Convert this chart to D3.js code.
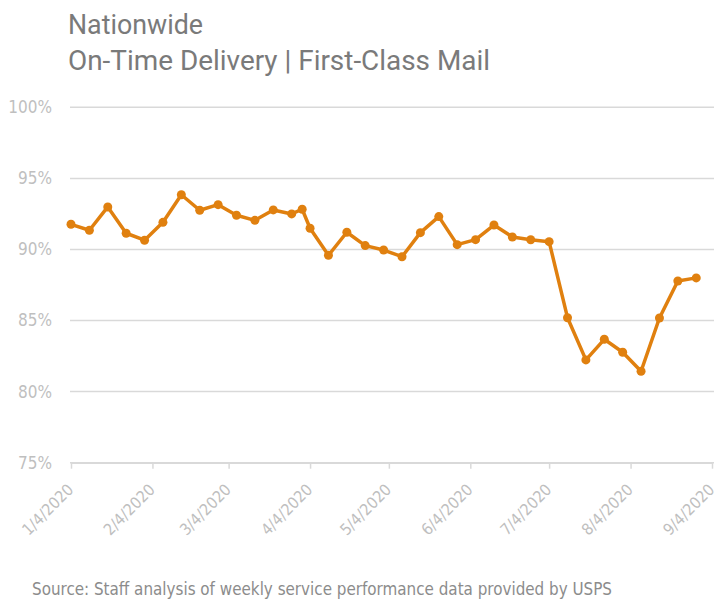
<!DOCTYPE html>
<html>
<head>
<meta charset="utf-8">
<script src="https://cdn.jsdelivr.net/npm/d3@7"></script>
<style>
  body { margin: 0; background: #fff; }
  svg { display: block; }
</style>
</head>
<body>
<svg id="chart" width="717" height="600"></svg>
<script>
const titleLines = ["Nationwide", "On-Time Delivery | First-Class Mail"];
const sourceText = "Source: Staff analysis of weekly service performance data provided by USPS";

const dates = [
  "2020-01-04","2020-01-11","2020-01-18","2020-01-25","2020-02-01","2020-02-08",
  "2020-02-15","2020-02-22","2020-02-29","2020-03-07","2020-03-14","2020-03-21",
  "2020-03-28","2020-04-01","2020-04-04","2020-04-11","2020-04-18","2020-04-25",
  "2020-05-02","2020-05-09","2020-05-16","2020-05-23","2020-05-30","2020-06-06",
  "2020-06-13","2020-06-20","2020-06-27","2020-07-04","2020-07-11","2020-07-18",
  "2020-07-25","2020-08-01","2020-08-08","2020-08-15","2020-08-22","2020-08-29"
];
const onTime = [
  91.77, 91.35, 92.99, 91.14, 90.65, 91.91,
  93.85, 92.76, 93.15, 92.41, 92.05, 92.78,
  92.50, 92.83, 91.49, 89.59, 91.21, 90.27,
  89.96, 89.49, 91.18, 92.31, 90.34, 90.69,
  91.72, 90.88, 90.68, 90.55, 85.20, 82.23,
  83.68, 82.77, 81.43, 85.18, 87.78, 88.00
];
const xTickDates = ["2020-01-04","2020-02-04","2020-03-04","2020-04-04","2020-05-04",
                    "2020-06-04","2020-07-04","2020-08-04","2020-09-04"];
const yTicks = [75, 80, 85, 90, 95, 100];

const parse = d3.timeParse("%Y-%m-%d");
const fmtTick = d => (d.getMonth() + 1) + "/" + d.getDate() + "/" + d.getFullYear();
const data = dates.map((d, i) => ({ date: parse(d), value: onTime[i] }));

const svg = d3.select("#chart");
const plotLeft = 71, plotRight = 712, plotTop = 107.3, plotBottom = 462.7;

const x = d3.scaleTime().domain([parse(xTickDates[0]), parse(xTickDates[xTickDates.length - 1])]).range([plotLeft, plotRight]);
const y = d3.scaleLinear().domain([75, 100]).range([plotBottom, plotTop]);

const font = '"DejaVu Sans Condensed", "Roboto", sans-serif';
const titleFont = 'Roboto, "DejaVu Sans Condensed", sans-serif';

// Title
svg.selectAll("text.ttl").data(titleLines).join("text")
  .attr("class", "ttl")
  .attr("x", 68)
  .attr("y", (d, i) => 34 + i * 36)
  .attr("font-family", titleFont)
  .attr("font-weight", 400)
  .attr("font-size", 28)
  .attr("fill", "#7a7a7a")
  .attr("textLength", (d, i) => i === 0 ? 135 : 422)
  .attr("lengthAdjust", "spacingAndGlyphs")
  .text(d => d);

// Gridlines
svg.append("g").selectAll("line").data(yTicks).join("line")
  .attr("x1", plotLeft - 1).attr("x2", 714)
  .attr("y1", d => y(d)).attr("y2", d => y(d))
  .attr("stroke", "#d9d9d9").attr("stroke-width", 1.5);

// Y axis labels
const yAxis = d3.axisLeft(y).tickValues(yTicks).tickFormat(d => d + "%").tickSize(0).tickPadding(19);
const gy = svg.append("g").attr("transform", `translate(${plotLeft},0)`).call(yAxis);
gy.select(".domain").remove();
gy.selectAll("text").attr("font-family", font).attr("font-size", 17).attr("fill", "#bfbfbf");

// X axis
const xAxis = d3.axisBottom(x).tickValues(xTickDates.map(parse)).tickFormat(fmtTick).tickSize(6).tickSizeOuter(0);
const gx = svg.append("g").attr("transform", `translate(0,${plotBottom})`).call(xAxis);
gx.select(".domain").attr("stroke", "#d9d9d9").attr("stroke-width", 1.5);
gx.selectAll(".tick line").attr("stroke", "#d9d9d9").attr("stroke-width", 1.5);
gx.selectAll("text")
  .attr("font-family", font).attr("font-size", 16).attr("fill", "#bfbfbf")
  .attr("text-anchor", "end")
  .attr("dy", "0.35em")
  .attr("transform", "translate(-1,24) rotate(-45)")
  .attr("x", 0).attr("y", 0);

// Line
const line = d3.line().x(d => x(d.date)).y(d => y(d.value));
svg.append("path").datum(data)
  .attr("d", line)
  .attr("fill", "none")
  .attr("stroke", "#E0800F")
  .attr("stroke-width", 3.5)
  .attr("stroke-linejoin", "round");

svg.append("g").selectAll("circle").data(data).join("circle")
  .attr("cx", d => x(d.date)).attr("cy", d => y(d.value))
  .attr("r", 4.5).attr("fill", "#E0800F");

// Source
svg.append("text")
  .attr("x", 32).attr("y", 595)
  .attr("font-family", font).attr("font-size", 17).attr("fill", "#8c8c8c")
  .attr("textLength", 580).attr("lengthAdjust", "spacingAndGlyphs")
  .text(sourceText);
</script>
</body>
</html>
